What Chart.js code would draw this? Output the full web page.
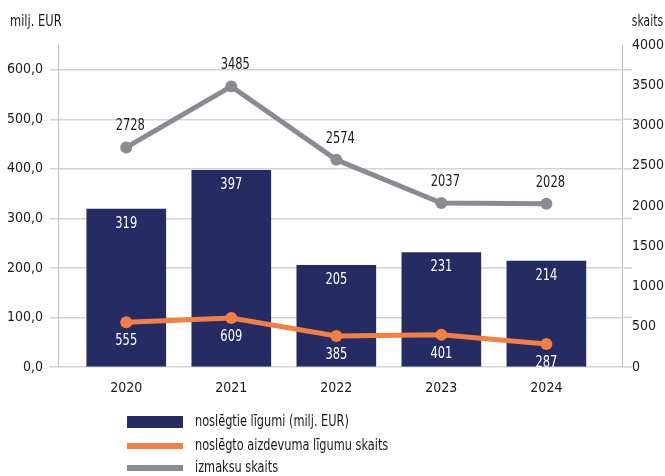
<!DOCTYPE html>
<html>
<head>
<meta charset="utf-8">
<script src="https://cdn.jsdelivr.net/npm/chart.js@4.4.1/dist/chart.umd.min.js"></script>
<style>
  html, body { margin: 0; padding: 0; background: #fff; }
  canvas { display: block; }
</style>
</head>
<body>
<canvas id="chart" width="665" height="476"></canvas>
<script>
/*-------------------------------------------------------------------------*/
// Data
/*-------------------------------------------------------------------------*/
var years = [2020, 2021, 2022, 2023, 2024];
var contractsEur = [319, 397, 205, 231, 214];     // left axis, milj. EUR
var loanContracts = [555, 609, 385, 401, 287];    // right axis, skaits
var payouts = [2728, 3485, 2574, 2037, 2028];     // right axis, skaits
var leftTicks = [0, 100, 200, 300, 400, 500, 600];
var rightTicks = [0, 500, 1000, 1500, 2000, 2500, 3000, 3500, 4000];
var seriesNames = ['noslēgtie līgumi (milj. EUR)', 'noslēgto aizdevuma līgumu skaits', 'izmaksu skaits'];
var leftTitle = 'milj. EUR';
var rightTitle = 'skaits';

var FONT = '"DejaVu Sans Condensed", "Liberation Sans Narrow", sans-serif';
var navy = '#252b63';
var orange = '#f47f43';
var grey = '#878c93';
var gridColor = '#d3d3d3';
var axisColor = '#bdbdbd';

function points(values) {
	return years.map(function(yr, i) { return { x: yr, y: values[i] }; });
}

// squeeze canvas text a bit, the original face is narrower
function narrowText(ctx, text, x, y, align, k) {
	var w = ctx.measureText(text).width * k;
	var left = align === 'center' ? x - w / 2 : (align === 'right' ? x - w : x);
	ctx.save();
	ctx.textAlign = 'left';
	ctx.translate(left, y);
	ctx.scale(k, 1);
	ctx.fillText(text, 0, 0);
	ctx.restore();
}

// Value labels, axis titles, legend and the small right grid ends
var extrasPlugin = {
	id: 'extras',
	afterDatasetsDraw: function(chart) {
		var ctx = chart.ctx;
		ctx.save();
		ctx.font = '15px ' + FONT;
		ctx.textBaseline = 'middle';

		chart.getDatasetMeta(0).data.forEach(function(bar, i) {
			ctx.fillStyle = '#ffffff';
			narrowText(ctx, String(contractsEur[i]), bar.x, bar.y + 15, 'center', 0.85);
		});
		chart.getDatasetMeta(1).data.forEach(function(pt, i) {
			ctx.fillStyle = '#ffffff';
			narrowText(ctx, String(loanContracts[i]), pt.x, pt.y + 19, 'center', 0.85);
		});
		chart.getDatasetMeta(2).data.forEach(function(pt, i) {
			ctx.fillStyle = '#1a1a1a';
			narrowText(ctx, String(payouts[i]), pt.x + 4, pt.y - 21, 'center', 0.85);
		});
		ctx.restore();
	},
	afterDraw: function(chart) {
		var ctx = chart.ctx;
		var area = chart.chartArea;
		ctx.save();

		// grid lines run a little past the right axis
		ctx.strokeStyle = gridColor;
		ctx.lineWidth = 1.5;
		leftTicks.forEach(function(v) {
			var y = chart.scales.y.getPixelForValue(v);
			ctx.beginPath();
			ctx.moveTo(area.right, y);
			ctx.lineTo(area.right + 10, y);
			ctx.stroke();
		});

		ctx.font = '15px ' + FONT;
		ctx.fillStyle = '#1a1a1a';
		ctx.textBaseline = 'alphabetic';
		narrowText(ctx, leftTitle, 10, 26, 'left', 0.85);
		narrowText(ctx, rightTitle, 663, 26, 'right', 0.8);

		// legend
		var colors = [navy, orange, grey];
		var rowY = [422, 446, 468];
		ctx.textBaseline = 'middle';
		seriesNames.forEach(function(name, i) {
			ctx.fillStyle = colors[i];
			if (i === 0) ctx.fillRect(127, rowY[i] - 6, 56, 12);
			else ctx.fillRect(127, rowY[i] - 3, 56, 6);
			ctx.fillStyle = '#1a1a1a';
			narrowText(ctx, name, 195, rowY[i], 'left', 0.84);
		});
		ctx.restore();
	}
};

new Chart(document.getElementById('chart'), {
	type: 'bar',
	data: {
		datasets: [{
			type: 'bar',
			label: seriesNames[0],
			data: points(contractsEur),
			backgroundColor: navy,
			barThickness: 79,
			yAxisID: 'y',
			order: 3
		}, {
			type: 'line',
			label: seriesNames[1],
			data: points(loanContracts),
			borderColor: orange,
			backgroundColor: orange,
			borderWidth: 5,
			pointRadius: 6,
			pointHoverRadius: 6,
			pointBorderWidth: 0,
			yAxisID: 'y1',
			order: 2
		}, {
			type: 'line',
			label: seriesNames[2],
			data: points(payouts),
			borderColor: grey,
			backgroundColor: grey,
			borderWidth: 5,
			pointRadius: 6,
			pointHoverRadius: 6,
			pointBorderWidth: 0,
			yAxisID: 'y1',
			order: 1
		}]
	},
	options: {
		responsive: false,
		animation: false,
		layout: { padding: { top: 45, left: 0, right: 0, bottom: 0 } },
		plugins: {
			legend: { display: false },
			tooltip: { enabled: false }
		},
		scales: {
			x: {
				type: 'linear',
				offset: false,
				min: 2019.35,
				max: 2024.72,
				grid: { display: false, drawTicks: false, offset: false },
				border: { display: false },
				afterBuildTicks: function(scale) {
					scale.ticks = years.map(function(yr) { return { value: yr }; });
				},
				afterFit: function(scale) { scale.height = 109; },
				ticks: {
					padding: 13,
					color: '#1a1a1a',
					font: { family: FONT, size: 14 },
					callback: function(v) { return String(v); }
				}
			},
			y: {
				position: 'left',
				min: 0,
				max: 650,
				afterBuildTicks: function(scale) {
					scale.ticks = leftTicks.map(function(v) { return { value: v }; });
				},
				afterFit: function(scale) { scale.width = 58; },
				grid: { color: gridColor, lineWidth: 1.5, tickLength: 8 },
				border: { display: true, color: axisColor, width: 1 },
				ticks: {
					padding: 7,
					color: '#1a1a1a',
					font: { family: FONT, size: 14 },
					callback: function(v) { return v.toFixed(1).replace('.', ','); }
				}
			},
			y1: {
				position: 'right',
				min: 0,
				max: 4000,
				afterBuildTicks: function(scale) {
					scale.ticks = rightTicks.map(function(v) { return { value: v }; });
				},
				afterFit: function(scale) { scale.width = 43; },
				grid: { drawOnChartArea: false, drawTicks: false },
				border: { display: true, color: axisColor, width: 1 },
				ticks: {
					padding: 10,
					color: '#1a1a1a',
					font: { family: FONT, size: 14 },
					callback: function(v) { return String(v); }
				}
			}
		}
	},
	plugins: [extrasPlugin]
});
</script>
</body>
</html>
